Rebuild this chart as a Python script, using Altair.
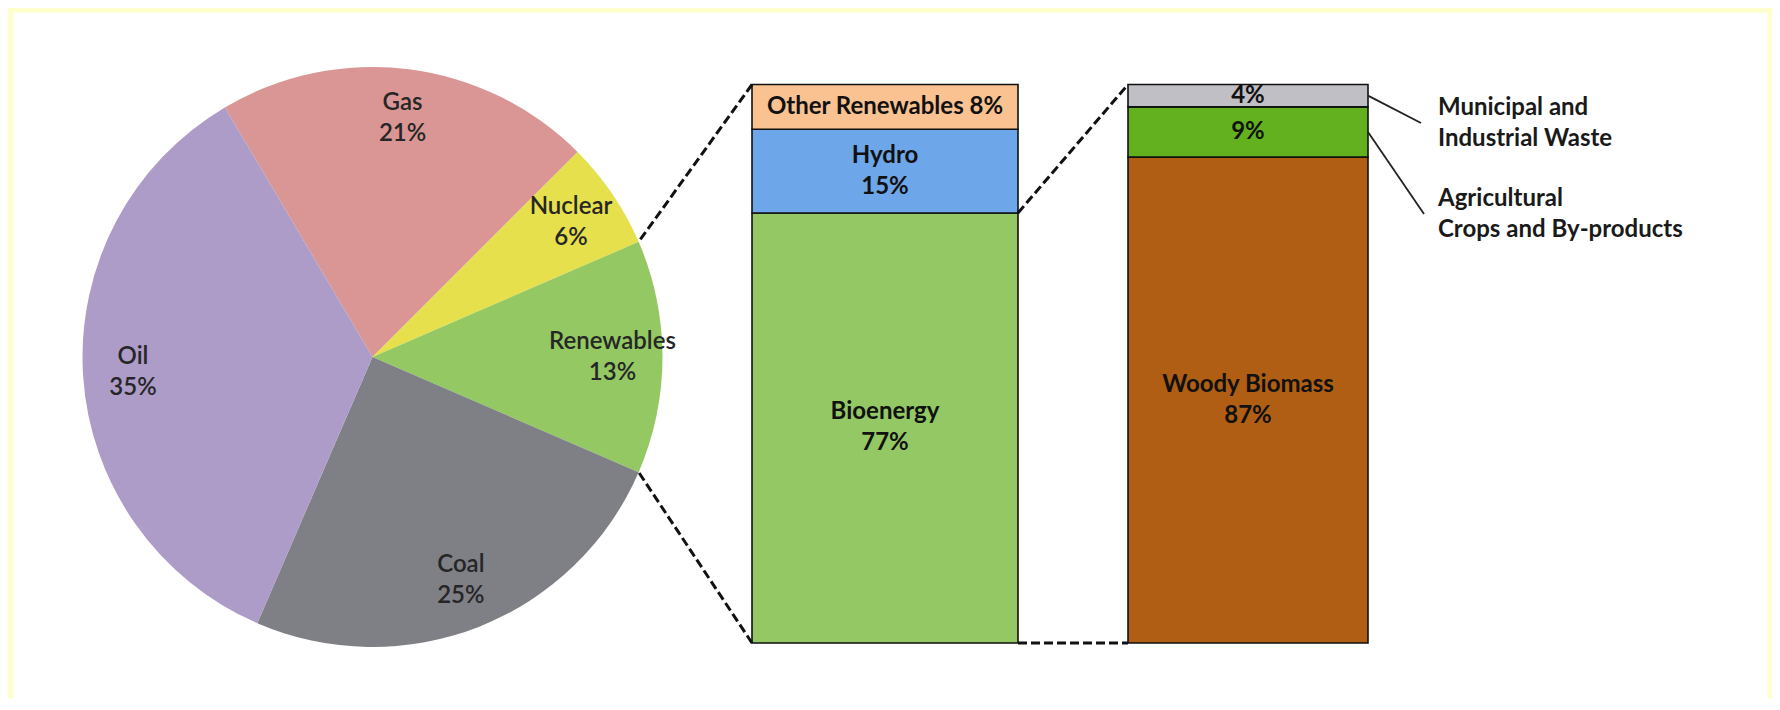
import math
import altair as alt
import pandas as pd

# ---------------- data ----------------
pie_cats = ["Gas", "Nuclear", "Renewables", "Coal", "Oil"]
pie_vals = [21, 6, 13, 25, 35]

# Renewables breakdown, bottom to top
ren_cats = ["Bioenergy", "Hydro", "Other Renewables"]
ren_vals = [77, 15, 8]

# Bioenergy breakdown, bottom to top
bio_cats = ["Woody Biomass", "Agricultural Crops and By-products", "Municipal and Industrial Waste"]
bio_vals = [87, 9, 4]
bio_name_inside = [True, False, False]
bio_side_labels = ["", "Agricultural\nCrops and By-products", "Municipal and\nIndustrial Waste"]

color_domain = pie_cats + ren_cats + bio_cats
color_range = ["#D99694", "#E6E04C", "#93C863", "#7F7F86", "#AD9BC8",
               "#93C865", "#6DA7E9", "#FAC191",
               "#AF5E13", "#63B11F", "#BFBFC5"]

# ---------------- layout (view pixels) ----------------
W, H = 1754, 686
CX, CY, R = 359.5, 345.0, 290.0
START_DEG = 329.4
X1L, X1R = 739, 1005
X2L, X2R = 1115, 1355
Y_BOTTOM, Y_TOP = 631, 72.5
FONT = "Lato"
FS = 24
LH = 31
TWO_LINE_MIN = 10  # segments below this share are labelled on one line

color = alt.Color("cat:N", scale=alt.Scale(domain=color_domain, range=color_range), legend=None)
yscale = alt.Scale(domain=[0, 100], range=[Y_BOTTOM, Y_TOP], nice=False, zero=False)
start = math.radians(START_DEG)
theta_scale = alt.Scale(range=[start, start + 2 * math.pi])

# ---------------- pie ----------------
pie_df = pd.DataFrame({
    "cat": pie_cats, "value": pie_vals, "idx": list(range(len(pie_cats))),
    "label": [f"{c}\n{v}%" for c, v in zip(pie_cats, pie_vals)],
})
pie_base = alt.Chart(pie_df).encode(
    theta=alt.Theta("value:Q", stack=True, scale=theta_scale),
    order=alt.Order("idx:Q"),
    x=alt.value(CX), y=alt.value(CY),
)
pie = pie_base.mark_arc(radius=R).encode(color=color)
pie_text = pie_base.mark_text(radius=240, font=FONT, fontSize=FS, fontWeight=600,
                              lineBreak="\n", lineHeight=LH, color="#262626",
                              align="center", baseline="middle", dy=-LH / 2).encode(text="label:N")

# pie points bounding the Renewables slice
total = sum(pie_vals)
k = pie_cats.index("Renewables")
a0 = START_DEG + 360 * sum(pie_vals[:k]) / total
a1 = a0 + 360 * pie_vals[k] / total
pA = (CX + R * math.sin(math.radians(a0)), CY - R * math.cos(math.radians(a0)))
pB = (CX + R * math.sin(math.radians(a1)), CY - R * math.cos(math.radians(a1)))


# ---------------- bars ----------------
def seg_label(c, v, show_name):
    if not show_name:
        return f"{v}%"
    return f"{c}\n{v}%" if v >= TWO_LINE_MIN else f"{c} {v}%"


ren_df = pd.DataFrame({
    "cat": ren_cats, "value": ren_vals, "idx": list(range(len(ren_cats))),
    "label": [seg_label(c, v, True) for c, v in zip(ren_cats, ren_vals)],
})
bio_df = pd.DataFrame({
    "cat": bio_cats, "value": bio_vals, "idx": list(range(len(bio_cats))),
    "label": [seg_label(c, v, s) for c, v, s in zip(bio_cats, bio_vals, bio_name_inside)],
    "side": bio_side_labels,
})


def stacked(df):
    return alt.Chart(df).transform_stack(
        stack="value", groupby=[], as_=["y0", "y1"], sort=[alt.SortField("idx", order="ascending")]
    ).transform_calculate(mid="(datum.y0 + datum.y1) / 2")


def bar_layers(df, xl, xr):
    base = stacked(df)
    rect = base.mark_rect(stroke="#111111", strokeWidth=1.6).encode(
        x=alt.value(xl), x2=alt.value(xr),
        y=alt.Y("y0:Q", scale=yscale, axis=None), y2="y1:Q",
        color=color,
    )
    layers = [rect]
    for cond, dy in [("indexof(datum.label, '\\n') >= 0", -LH / 2),
                     ("indexof(datum.label, '\\n') < 0", 0)]:
        layers.append(base.transform_filter(cond).mark_text(
            font=FONT, fontSize=FS, fontWeight="bold", lineBreak="\n",
            lineHeight=LH, color="#111111", align="center",
            baseline="middle", dy=dy).encode(
            x=alt.value((xl + xr) / 2),
            y=alt.Y("mid:Q", scale=yscale, axis=None),
            text="label:N",
        ))
    return layers


bars1 = bar_layers(ren_df, X1L, X1R)
bars2 = bar_layers(bio_df, X2L, X2R)

# ---------------- dashed connectors ----------------
dash = dict(strokeDash=[9, 4], strokeWidth=3, color="#111111")
ren_total = sum(ren_vals)
bio_total = sum(bio_vals)

conA = alt.Chart(pd.DataFrame({"y": [ren_total]})).mark_rule(**dash).encode(
    x=alt.value(X1L), y=alt.Y("y:Q", scale=yscale, axis=None),
    x2=alt.value(pA[0]), y2=alt.value(pA[1]))
conB = alt.Chart(pd.DataFrame({"y": [0]})).mark_rule(**dash).encode(
    x=alt.value(X1L), y=alt.Y("y:Q", scale=yscale, axis=None),
    x2=alt.value(pB[0]), y2=alt.value(pB[1]))
conC = alt.Chart(pd.DataFrame({"y": [ren_vals[0]], "yy": [bio_total]})).mark_rule(**dash).encode(
    x=alt.value(X1R), x2=alt.value(X2L),
    y=alt.Y("y:Q", scale=yscale, axis=None), y2="yy:Q")
conD = alt.Chart(pd.DataFrame({"y": [0], "yy": [0]})).mark_rule(**dash).encode(
    x=alt.value(X1R), x2=alt.value(X2L),
    y=alt.Y("y:Q", scale=yscale, axis=None), y2="yy:Q")

# ---------------- side labels with leaders ----------------
SIDE_X = 1425
side_layers = []
for idx, (lab_y, end_x) in {2: (111, 1408), 1: (202, 1411)}.items():
    base = stacked(bio_df)
    leader = base.transform_filter(f"datum.idx == {idx}").mark_rule(
        color="#222222", strokeWidth=1.8).encode(
        x=alt.value(X2R), y=alt.Y("mid:Q", scale=yscale, axis=None),
        x2=alt.value(end_x), y2=alt.value(lab_y))
    lab = alt.Chart(bio_df).transform_filter(f"datum.idx == {idx}").mark_text(
        font=FONT, fontSize=FS, fontWeight="bold", lineBreak="\n", lineHeight=LH,
        color="#1a1a1a", align="left", baseline="middle", dy=-LH / 2).encode(
        x=alt.value(SIDE_X), y=alt.value(lab_y), text="side:N")
    side_layers += [leader, lab]

chart = alt.layer(
    pie, pie_text, *bars1, *bars2, conA, conB, conC, conD, *side_layers
).properties(
    width=W, height=H,
    padding={"left": 5, "top": 4, "right": 5, "bottom": 0},
    background="#FFFFCC",
    autosize="none",
).configure_view(fill="white", stroke="transparent")

chart.save("out.html", embed_options={"renderer": "svg", "actions": False})
